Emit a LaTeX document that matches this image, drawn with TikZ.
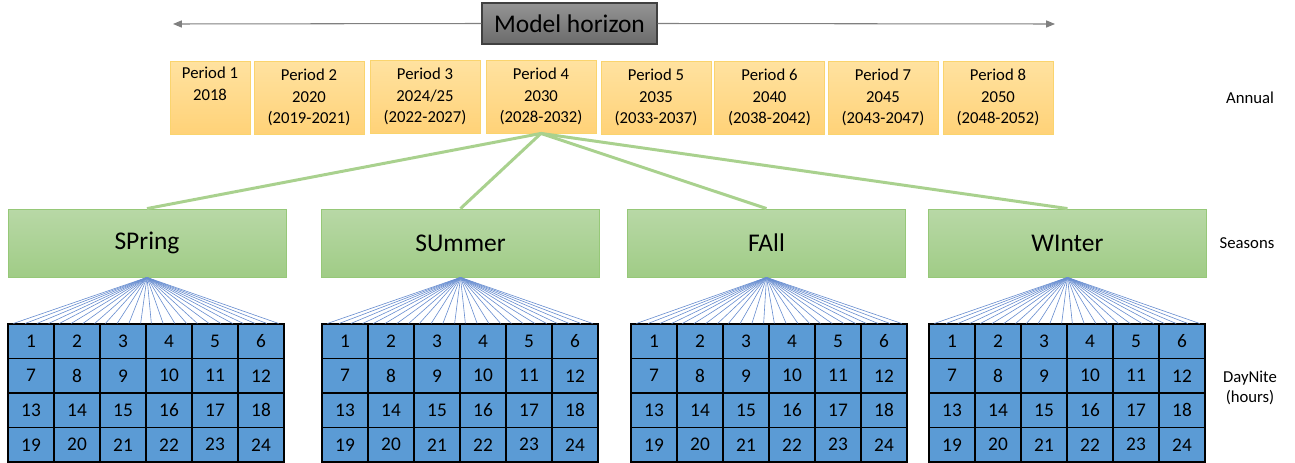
\documentclass[tikz,border=0pt]{standalone}
\usepackage{fontspec}
\setmainfont{Carlito}
\usetikzlibrary{arrows.meta, positioning, calc}

\definecolor{periodtop}{RGB}{255,226,160}
\definecolor{periodbot}{RGB}{255,210,120}
\definecolor{periodline}{RGB}{250,212,110}
\definecolor{seasontop}{RGB}{184,216,166}
\definecolor{seasonbot}{RGB}{160,204,134}
\definecolor{seasonline}{RGB}{150,200,120}
\definecolor{linkgreen}{RGB}{169,209,142}
\definecolor{hourblue}{RGB}{91,155,213}
\definecolor{fanblue}{RGB}{68,114,196}

\begin{document}
\begin{tikzpicture}[
    x=0.02cm, y=-0.02cm,
    period/.style={
        rectangle,
        minimum width=2.2cm,
        minimum height=1.46cm,
        inner sep=0pt,
        align=center,
        draw=periodline,
        top color=periodtop,
        bottom color=periodbot,
        line width=0.5pt,
        font=\fontsize{9.5}{12.2}\selectfont
    },
    horizon/.style={
        rectangle,
        minimum width=3.5cm,
        minimum height=0.82cm,
        draw=black!75,
        top color=black!42,
        bottom color=black!58,
        line width=0.6pt,
        font=\fontsize{14.5}{17}\selectfont
    },
    season/.style={
        rectangle,
        minimum width=5.56cm,
        minimum height=1.36cm,
        draw=seasonline,
        top color=seasontop,
        bottom color=seasonbot,
        line width=0.5pt,
        font=\fontsize{14.5}{17}\selectfont
    },
    hour/.style={
        rectangle,
        minimum width=0.92cm,
        minimum height=0.69cm,
        inner sep=0pt,
        draw=black,
        fill=hourblue,
        line width=0.6pt,
        font=\fontsize{11}{13}\selectfont
    },
    tag/.style={
        align=center,
        font=\fontsize{9.5}{11.3}\selectfont
    },
    span/.style={
        -{Triangle[length=5pt, width=4pt]},
        draw=black!50,
        line width=0.6pt
    },
    link/.style={
        draw=linkgreen,
        line width=1.7pt
    },
    fan/.style={
        draw=fanblue!80,
        line width=0.35pt
    }
]
    \useasboundingbox (0,0) rectangle (1295,463);

    % time line
    \node (horizon) [horizon] at (569.5,23.5) {Model horizon};
    \coordinate (start) at (173,24);
    \coordinate (end) at (1055,24);
    \draw [span] (horizon.west) -- (start);
    \draw [span] (horizon.east) -- (end);

    % periods
    \node (p1) [period, minimum width=1.6cm] at (210,97.5) {Period 1\\2018\\\strut};
    \node (p2) [period] at (309,97.5) {Period 2\\2020\\(2019-2021)};
    \node (p3) [period] at (425,96.5) {Period 3\\2024/25\\(2022-2027)};
    \node (p4) [period] at (541,96.5) {Period 4\\2030\\(2028-2032)};
    \node (p5) [period] at (656,97.5) {Period 5\\2035\\(2033-2037)};
    \node (p6) [period] at (769.5,97.5) {Period 6\\2040\\(2038-2042)};
    \node (p7) [period] at (883,97.5) {Period 7\\2045\\(2043-2047)};
    \node (p8) [period] at (998,97.5) {Period 8\\2050\\(2048-2052)};

    % seasons
    \node (sp) [season] at (147,243) {SPring};
    \node (su) [season] at (460.5,243) {SUmmer};
    \node (fa) [season] at (766.5,243) {FAll};
    \node (wi) [season] at (1067.5,243) {WInter};

    \draw [link] (p4.south) -- (sp.north);
    \draw [link] (p4.south) -- (su.north);
    \draw [link] (p4.south) -- (fa.north);
    \draw [link] (p4.south) -- (wi.north);

    % hours
    \foreach \s/\lx in {sp/8, su/322, fa/631, wi/929} {
        \foreach \r in {1,...,4} {
            \foreach \c in {1,...,6} {
                \pgfmathtruncatemacro\n{(\r-1)*6+\c}
                \node (\s-\n) [hour] at ({\lx+23+46*(\c-1)}, {341.25+34.5*(\r-1)}) {\n};
            }
        }
        \foreach \c in {1,...,6} {
            \foreach \t in {0.125,0.375,0.625,0.875} {
                \draw [fan] (\s.south) -- ($(\s-\c.north west)!\t!(\s-\c.north east)$);
            }
        }
    }

    % level names
    \node (annual) [tag] at (1250,98) {Annual};
    \node (seasons) [tag] at (1247,243) {Seasons};
    \node (daynite) [tag] at (1250,388) {DayNite\\(hours)};

\end{tikzpicture}
\end{document}
